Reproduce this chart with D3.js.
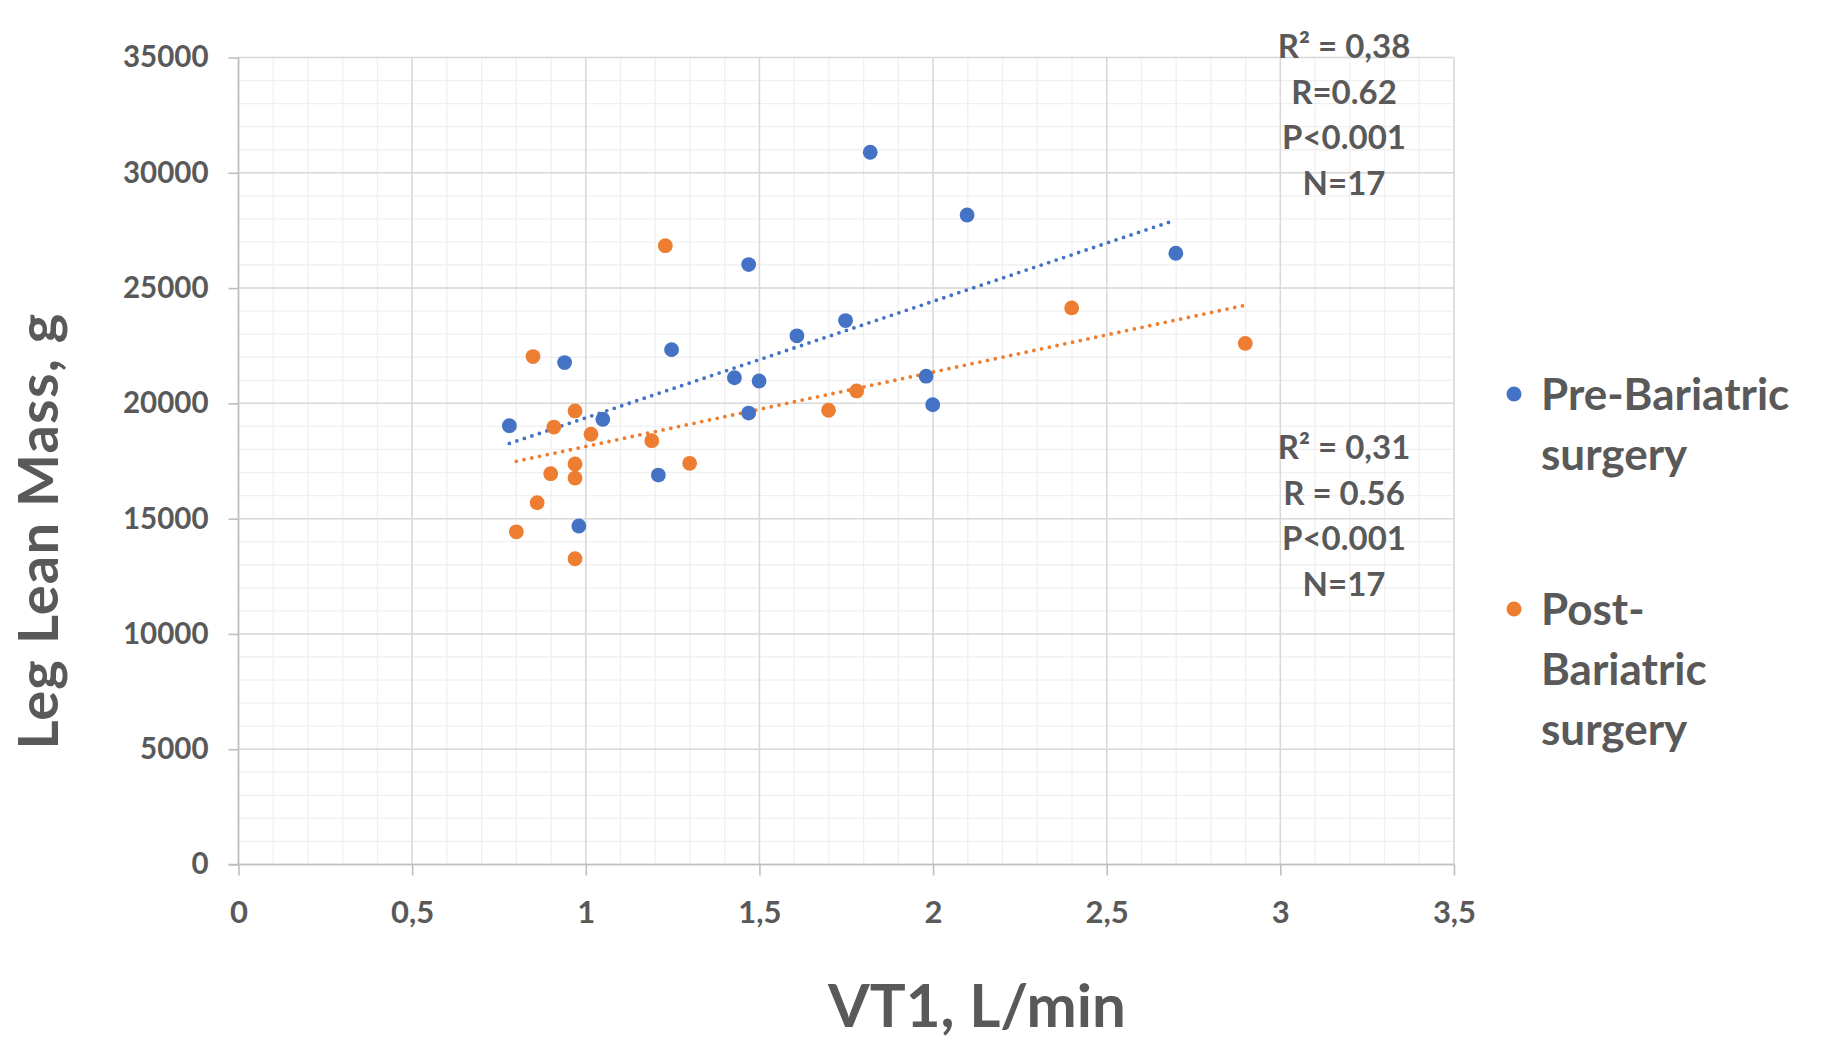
<!DOCTYPE html>
<html>
<head>
<meta charset="utf-8">
<script src="https://cdn.jsdelivr.net/npm/d3@7"></script>
<style>
  html, body { margin: 0; padding: 0; background: #fff; }
  svg text { font-family: Lato, "Open Sans", sans-serif; font-weight: 700; fill: #595959; }
</style>
</head>
<body>
<div id="chart"></div>
<script>
// Pre-Bariatric surgery (blue)
const preVT1 = [0.780, 0.939, 0.980, 1.049, 1.209, 1.247, 1.428, 1.469, 1.469, 1.499, 1.608, 1.748, 1.819, 1.980, 1.999, 2.098, 2.699];
const preLLM = [19030, 21770, 14680, 19310, 16890, 22330, 21110, 19580, 26020, 20970, 22930, 23590, 30890, 21180, 19940, 28170, 26510];
// Post-Bariatric surgery (orange)
const postVT1 = [0.800, 0.848, 0.860, 0.899, 0.908, 0.969, 0.969, 0.969, 0.969, 1.015, 1.190, 1.229, 1.299, 1.699, 1.780, 2.399, 2.899];
const postLLM = [14430, 22030, 15690, 16950, 18970, 19670, 17370, 16760, 13260, 18660, 18380, 26840, 17400, 19700, 20540, 24140, 22600];

const xTicks = [0, 0.5, 1, 1.5, 2, 2.5, 3, 3.5];
const yTicks = [0, 5000, 10000, 15000, 20000, 25000, 30000, 35000];

const statsPre = ["R² = 0,38", "R=0.62", "P<0.001", "N=17"];
const statsPost = ["R² = 0,31", "R = 0.56", "P<0.001", "N=17"];

const legendPre = ["Pre-Bariatric", "surgery"];
const legendPost = ["Post-", "Bariatric", "surgery"];

const blue = "#4472C4";
const orange = "#ED7D31";

const width = 1827;
const height = 1062;

const svg = d3.select("#chart")
  .append("svg")
  .attr("width", width)
  .attr("height", height);

svg.append("rect").attr("width", width).attr("height", height).attr("fill", "#fff");

const x = d3.scaleLinear().domain([0, 3.5]).range([238.5, 1454]);
const y = d3.scaleLinear().domain([0, 35000]).range([864.5, 57.5]);

// minor grid
svg.append("g").selectAll("line")
  .data(x.ticks(35))
  .enter().append("line")
  .attr("x1", d => x(d)).attr("x2", d => x(d))
  .attr("y1", y(0)).attr("y2", y(35000))
  .attr("stroke", "#f0f0f0").attr("stroke-width", 1.3);
svg.append("g").selectAll("line")
  .data(y.ticks(35))
  .enter().append("line")
  .attr("y1", d => y(d)).attr("y2", d => y(d))
  .attr("x1", x(0)).attr("x2", x(3.5))
  .attr("stroke", "#f0f0f0").attr("stroke-width", 1.3);

// major grid
svg.append("g").selectAll("line")
  .data(xTicks)
  .enter().append("line")
  .attr("x1", d => x(d)).attr("x2", d => x(d))
  .attr("y1", y(0)).attr("y2", y(35000))
  .attr("stroke", "#d9d9d9").attr("stroke-width", 1.5);
svg.append("g").selectAll("line")
  .data(yTicks)
  .enter().append("line")
  .attr("y1", d => y(d)).attr("y2", d => y(d))
  .attr("x1", x(0)).attr("x2", x(3.5))
  .attr("stroke", "#d9d9d9").attr("stroke-width", 1.5);

// axes
const fmt = d => String(d).replace(".", ",");

const xAxis = svg.append("g")
  .attr("transform", `translate(0,${y(0)})`)
  .call(d3.axisBottom(x).tickValues(xTicks).tickFormat(fmt).tickSize(11).tickPadding(25.5));
const yAxis = svg.append("g")
  .attr("transform", `translate(${x(0)},0)`)
  .call(d3.axisLeft(y).tickValues(yTicks).tickFormat(d => String(d)).tickSize(10).tickPadding(20));

[xAxis, yAxis].forEach(a => {
  a.select(".domain").attr("stroke", "#bfbfbf").attr("stroke-width", 1.6);
  a.selectAll(".tick line").attr("stroke", "#bfbfbf").attr("stroke-width", 1.6);
  a.selectAll(".tick text")
    .style("font-family", "Lato, sans-serif")
    .style("font-weight", 700)
    .attr("fill", "#595959");
});
xAxis.selectAll(".tick text").style("font-size", "31px");
yAxis.selectAll(".tick text").style("font-size", "29.5px");
yAxis.select(".domain").attr("d", `M0,${y(35000)}V${y(0)}`);
xAxis.select(".domain").attr("d", `M${x(0) - 10},0H${x(3.5)}`);

// trendlines (least squares)
function fit(xs, ys) {
  const mx = d3.mean(xs), my = d3.mean(ys);
  let sxy = 0, sxx = 0;
  xs.forEach((v, i) => { sxy += (v - mx) * (ys[i] - my); sxx += (v - mx) * (v - mx); });
  const b = sxy / sxx;
  const a = my - b * mx;
  const x0 = d3.min(xs), x1 = d3.max(xs);
  return [[x0, a + b * x0], [x1, a + b * x1]];
}

const line = d3.line().x(d => x(d[0])).y(d => y(d[1]));

[[preVT1, preLLM, blue], [postVT1, postLLM, orange]].forEach(([xs, ys, c]) => {
  svg.append("path")
    .attr("d", line(fit(xs, ys)))
    .attr("fill", "none")
    .attr("stroke", c)
    .attr("stroke-width", 3.8)
    .attr("stroke-linecap", "round")
    .attr("stroke-dasharray", "0 7.9");
});

// points
function drawPoints(xs, ys, c) {
  svg.append("g").selectAll("circle")
    .data(xs.map((v, i) => [v, ys[i]]))
    .enter().append("circle")
    .attr("cx", d => x(d[0]))
    .attr("cy", d => y(d[1]))
    .attr("r", 7.4)
    .attr("fill", c);
}
drawPoints(preVT1, preLLM, blue);
drawPoints(postVT1, postLLM, orange);

// stats text
function drawStats(lines, top) {
  svg.append("g").selectAll("text")
    .data(lines)
    .enter().append("text")
    .attr("x", 1344)
    .attr("y", (d, i) => top + i * 45.7)
    .attr("text-anchor", "middle")
    .style("font-size", "33px")
    .text(d => d);
}
drawStats(statsPre, 58);
drawStats(statsPost, 459);

// axis titles
svg.append("text")
  .attr("x", 977)
  .attr("y", 1027)
  .attr("text-anchor", "middle")
  .style("font-size", "60px")
  .text("VT1, L/min");

svg.append("text")
  .attr("transform", "translate(58,531) rotate(-90)")
  .attr("text-anchor", "middle")
  .style("font-size", "56px")
  .style("letter-spacing", "1.2px")
  .text("Leg Lean Mass, g");

// legend
function drawLegend(lines, cy, c) {
  svg.append("circle").attr("cx", 1514).attr("cy", cy).attr("r", 7.5).attr("fill", c);
  svg.append("g").selectAll("text")
    .data(lines)
    .enter().append("text")
    .attr("x", 1541)
    .attr("y", (d, i) => cy + 16 + i * 60)
    .style("font-size", "44px")
    .text(d => d);
}
drawLegend(legendPre, 394, blue);
drawLegend(legendPost, 609, orange);
</script>
</body>
</html>
